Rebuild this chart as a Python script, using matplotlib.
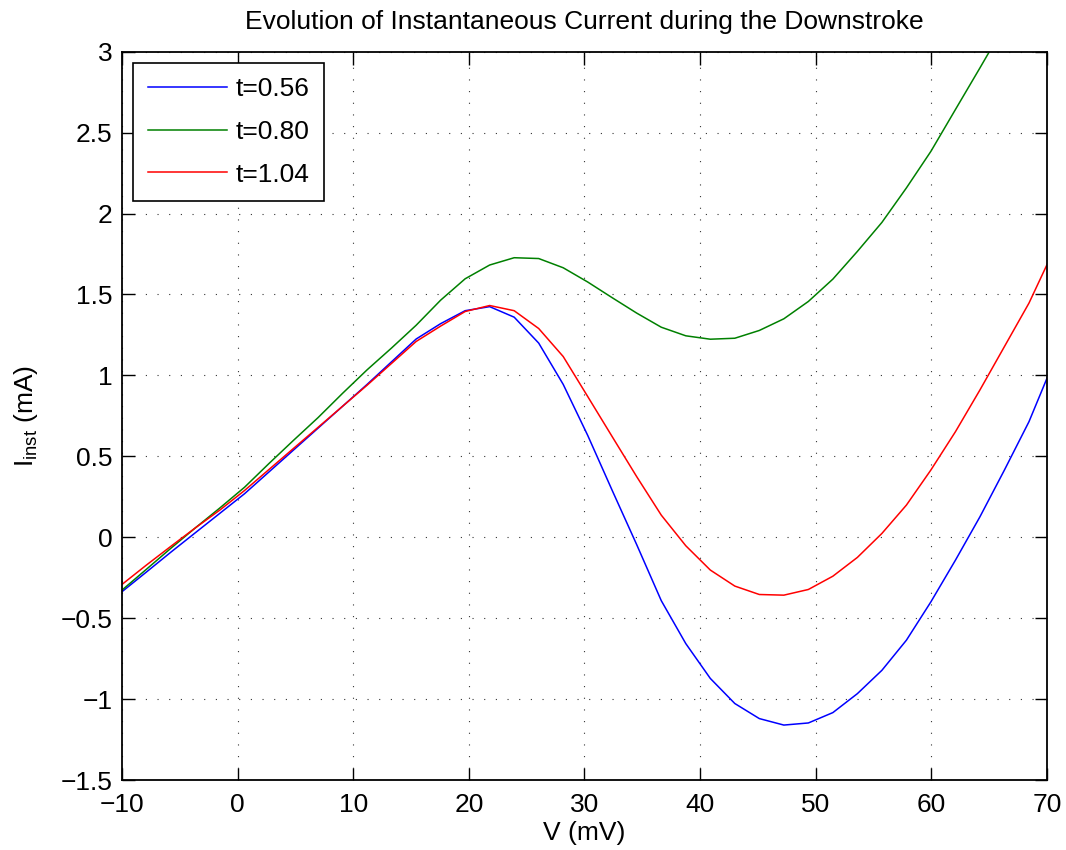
import numpy as np
import matplotlib
matplotlib.use("Agg")
import matplotlib.pyplot as plt
from matplotlib.ticker import FuncFormatter

# dados (V em mV, corrente em mA)
tensao = [-10.0, -7.88, -5.76, -3.64, -1.52, 0.6, 2.72, 4.84, 6.96, 9.08,
          11.2, 13.32, 15.44, 17.56, 19.68, 21.8, 23.92, 26.04, 28.16, 30.28,
          32.4, 34.52, 36.64, 38.76, 40.88, 43.0, 45.12, 47.24, 49.36, 51.48,
          53.6, 55.72, 57.84, 59.96, 62.08, 64.2, 66.32, 68.44, 70.56]

i_t056 = [-0.335, -0.213, -0.09, 0.03, 0.15, 0.27, 0.405, 0.54, 0.675, 0.81,
          0.945, 1.085, 1.225, 1.32, 1.40, 1.425, 1.36, 1.20, 0.945, 0.63,
          0.29, -0.045, -0.39, -0.655, -0.87, -1.025, -1.118, -1.158, -1.145, -1.081,
          -0.964, -0.82, -0.634, -0.397, -0.14, 0.128, 0.417, 0.715, 1.08]

i_t080 = [-0.325, -0.196, -0.066, 0.06, 0.183, 0.31, 0.457, 0.60, 0.74, 0.89,
          1.035, 1.17, 1.31, 1.465, 1.597, 1.682, 1.727, 1.722, 1.665, 1.577,
          1.48, 1.385, 1.298, 1.245, 1.224, 1.23, 1.278, 1.35, 1.457, 1.595,
          1.766, 1.945, 2.158, 2.384, 2.642, 2.899, 3.16, 3.43, 3.70]

i_t104 = [-0.29, -0.17, -0.054, 0.06, 0.17, 0.29, 0.42, 0.55, 0.68, 0.81,
          0.94, 1.075, 1.21, 1.305, 1.395, 1.432, 1.40, 1.29, 1.117, 0.87,
          0.622, 0.375, 0.138, -0.051, -0.201, -0.30, -0.352, -0.356, -0.321, -0.239,
          -0.123, 0.025, 0.20, 0.417, 0.653, 0.911, 1.179, 1.447, 1.77]

rotulos = ["t=0.56", "t=0.80", "t=1.04"]
cores = ["#0000ff", "#008000", "#ff0000"]

x_ticks = [-10, 0, 10, 20, 30, 40, 50, 60, 70]
y_ticks = [-1.5, -1, -0.5, 0, 0.5, 1, 1.5, 2, 2.5, 3]

plt.rcParams['font.family'] = ['Liberation Sans', 'DejaVu Sans']
plt.rcParams['mathtext.default'] = 'regular'

fs = 19

fig = plt.figure(figsize=(10.66, 8.5), dpi=100)
ax = fig.add_axes([0.1144, 0.0818, 0.8678, 0.8576])

for serie, cor, rot in zip([i_t056, i_t080, i_t104], cores, rotulos):
    ax.plot(tensao, serie, color=cor, linewidth=1.1, label=rot)

ax.set_xlim(-10, 70)
ax.set_ylim(-1.5, 3)
ax.set_xticks(x_ticks)
ax.set_yticks(y_ticks)
fmt = FuncFormatter(lambda v, p: ("%g" % v).replace("-", "\u2212"))
ax.yaxis.set_major_formatter(fmt)
ax.xaxis.set_major_formatter(fmt)

ax.tick_params(direction='in', length=9, width=1, labelsize=fs,
               top=True, right=True)
ax.tick_params(axis='x', pad=9)
ax.tick_params(axis='y', pad=7)
for sp in ax.spines.values():
    sp.set_linewidth(1.3)
    sp.set_color('black')

ax.grid(True, color='black', linewidth=0.8, linestyle=(0, (1, 9.5)), alpha=0.8)

ax.set_title("Evolution of Instantaneous Current during the Downstroke",
             fontsize=fs, pad=16)
ax.set_xlabel("V (mV)", fontsize=fs, labelpad=3)
ax.set_ylabel(r"I$_{inst}$ (mA)", fontsize=fs, labelpad=15)

leg = ax.legend(loc='upper left', fontsize=fs, handlelength=3.0,
                borderaxespad=0.42, labelspacing=0.71, handletextpad=0.35,
                fancybox=False, framealpha=1, edgecolor='black',
                borderpad=0.55)
leg.get_frame().set_linewidth(1.2)

plt.savefig("out.png", dpi=100)
plt.close()
